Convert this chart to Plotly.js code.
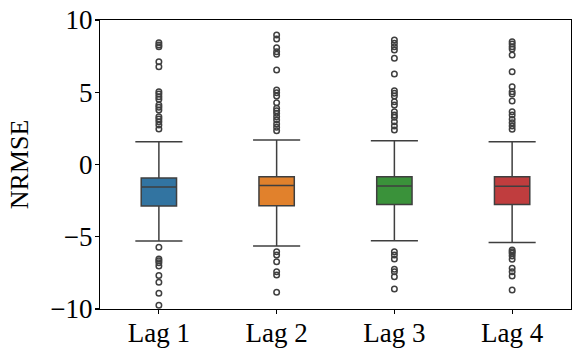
<!DOCTYPE html>
<html>
<head>
<meta charset="utf-8">
<script src="https://cdn.plot.ly/plotly-3.0.1.min.js"></script>
<style>
  html, body { margin: 0; padding: 0; background: #fff; }
  #chart { width: 581px; height: 355px; }
</style>
</head>
<body>
<div id="chart"></div>
<script>
// categories and box statistics
var lags = ['Lag 1', 'Lag 2', 'Lag 3', 'Lag 4'];
var colors = ['#3274a1', '#e1812c', '#3a923a', '#c03d3e'];

var q1 = [-2.87, -2.85, -2.76, -2.76];
var median = [-1.56, -1.46, -1.49, -1.51];
var q3 = [-0.93, -0.84, -0.84, -0.84];
var lowWhisker = [-5.30, -5.64, -5.27, -5.39];
var highWhisker = [1.58, 1.70, 1.65, 1.58];

// outliers for each lag
var outliers = [
  [8.43, 8.27, 8.15, 7.11, 6.77, 5.04, 4.88, 4.69, 4.51, 4.12, 3.96, 3.77, 3.31, 3.15, 2.96, 2.73, 2.46,
   -5.73, -6.54, -6.66, -6.80, -7.02, -7.69, -8.15, -8.91, -9.74],
  [8.96, 8.69, 8.08, 7.81, 7.63, 6.54, 5.16, 4.97, 4.74, 4.28, 3.89, 3.72, 3.54, 3.31, 3.08, 2.80, 2.57, 2.34,
   -6.03, -6.26, -6.73, -7.42, -7.65, -8.84],
  [8.62, 8.39, 8.15, 7.92, 7.35, 6.26, 5.11, 4.93, 4.74, 4.35, 4.12, 3.65, 3.43, 3.27, 2.96, 2.66, 2.39,
   -6.03, -6.26, -6.54, -7.25, -7.42, -7.76, -8.62],
  [8.50, 8.34, 8.15, 7.99, 7.58, 6.42, 5.38, 5.04, 4.88, 4.39, 3.65, 3.43, 3.13, 2.89, 2.66, 2.44,
   -5.92, -6.03, -6.15, -6.33, -6.56, -7.18, -7.42, -7.72, -8.69]
];

var edge = '#3f3f3f';
var data = [];

// boxes
lags.forEach(function (name, i) {
  data.push({
    type: 'box',
    x: [i],
    q1: [q1[i]],
    median: [median[i]],
    q3: [q3[i]],
    lowerfence: [lowWhisker[i]],
    upperfence: [highWhisker[i]],
    width: 0.3,
    whiskerwidth: 0,
    fillcolor: colors[i],
    line: {color: edge, width: 1.5},
    boxpoints: false,
    hoverinfo: 'skip'
  });
});

// whisker caps (wider than the boxes)
var capX = [], capY = [];
lags.forEach(function (name, i) {
  [lowWhisker[i], highWhisker[i]].forEach(function (v) {
    capX.push(i - 0.2, i + 0.2, null);
    capY.push(v, v, null);
  });
});
data.push({
  type: 'scatter', mode: 'lines', x: capX, y: capY,
  line: {color: edge, width: 1.5}, hoverinfo: 'skip'
});

// fliers
lags.forEach(function (name, i) {
  data.push({
    type: 'scatter', mode: 'markers',
    x: outliers[i].map(function () { return i; }),
    y: outliers[i],
    marker: {symbol: 'circle-open', size: 5.5, color: edge, line: {width: 1.5, color: edge}},
    hoverinfo: 'skip'
  });
});

var family = '"Liberation Serif", "Times New Roman", serif';
var tickFont = {family: family, size: 27, color: '#000'};
var titleFont = {family: family, size: 26, color: '#000'};

var layout = {
  width: 581,
  height: 355,
  margin: {l: 100, r: 10, t: 20, b: 46},
  paper_bgcolor: '#fff',
  plot_bgcolor: '#fff',
  showlegend: false,
  boxmode: 'overlay',
  font: tickFont,
  xaxis: {
    range: [-0.5, 3.5],
    tickvals: [0, 1, 2, 3],
    ticktext: lags,
    showgrid: false, zeroline: false,
    showline: true, mirror: true, linecolor: '#000', linewidth: 1.2,
    ticks: 'outside', ticklen: 4, tickwidth: 1.2, tickcolor: '#000',
    ticklabelstandoff: -5,
    tickfont: tickFont
  },
  yaxis: {
    range: [-10, 10],
    tickvals: [-10, -5, 0, 5, 10],
    showgrid: false, zeroline: false,
    showline: true, mirror: true, linecolor: '#000', linewidth: 1.2,
    ticks: 'outside', ticklen: 4, tickwidth: 1.2, tickcolor: '#000',
    ticklabelstandoff: -3,
    tickfont: tickFont,
    title: {text: 'NRMSE', font: titleFont, standoff: 14}
  }
};

Plotly.newPlot('chart', data, layout, {displayModeBar: false, staticPlot: true});
</script>
</body>
</html>
